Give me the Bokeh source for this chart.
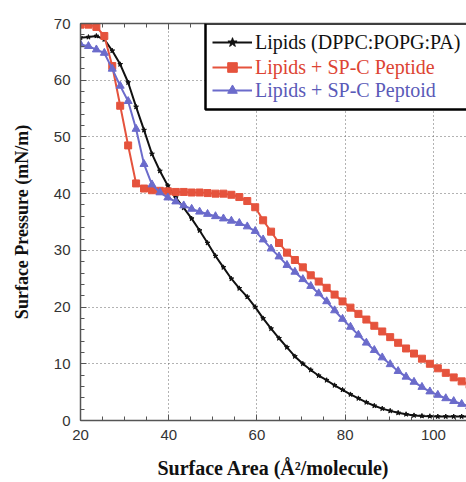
from bokeh.plotting import figure
from bokeh.models import (Range1d, SingleIntervalTicker, LinearAxis, Legend, LegendItem,
                          BoxAnnotation)
from bokeh.embed import file_html
from bokeh.resources import INLINE

# ---- data ----
area = [20.0, 21.8, 23.6, 25.4, 27.2, 29.0, 30.8, 32.6, 34.4, 36.2, 38.0, 39.8, 41.6, 43.4,
        45.2, 47.0, 48.8, 50.6, 52.4, 54.2, 56.0, 57.8, 59.6, 61.4, 63.2, 65.0, 66.8, 68.6,
        70.4, 72.2, 74.0, 75.8, 77.6, 79.4, 81.2, 83.0, 84.8, 86.6, 88.4, 90.2, 92.0, 93.8,
        95.6, 97.4, 99.2, 101.0, 102.8, 104.6, 106.4, 108.2]

lipids = [67.5, 67.6, 67.8, 67.2, 65.2, 62.8, 59.6, 55.3, 51.2, 47.0, 44.0, 41.4, 39.3, 37.5,
          35.6, 33.5, 31.3, 29.0, 27.0, 25.0, 23.3, 21.8, 20.0, 18.0, 16.2, 14.5, 12.9, 11.3,
          10.0, 8.9, 7.9, 7.1, 6.2, 5.4, 4.6, 3.9, 3.2, 2.6, 2.1, 1.7, 1.35, 1.1,
          0.9, 0.8, 0.75, 0.7, 0.7, 0.7, 0.7, 0.7]

peptide = [69.8, 69.8, 69.4, 67.8, 62.5, 55.5, 48.5, 41.8, 40.9, 40.6, 40.5, 40.4, 40.3, 40.3,
           40.2, 40.2, 40.1, 40.0, 40.0, 39.8, 39.4, 38.7, 37.6, 35.3, 33.3, 31.3, 29.6, 28.3,
           27.0, 25.6, 24.5, 23.4, 22.2, 21.0, 19.9, 18.8, 17.8, 16.7, 15.7, 14.7, 13.7, 12.7,
           11.8, 10.9, 10.0, 9.2, 8.4, 7.6, 6.9, 6.3]

peptoid = [66.3, 66.0, 65.4, 64.8, 62.0, 59.0, 56.3, 51.4, 45.2, 41.6, 40.2, 39.3, 38.6, 37.9,
           37.3, 36.8, 36.4, 36.0, 35.6, 35.2, 34.8, 34.2, 33.4, 31.9, 30.3, 28.9, 27.4, 26.2,
           24.9, 23.7, 22.4, 21.0, 19.4, 17.9, 16.5, 15.1, 13.7, 12.4, 11.1, 9.9, 8.7, 7.7,
           6.8, 5.9, 5.1, 4.5, 3.9, 3.4, 2.9, 2.5]

labels = ["Lipids (DPPC:POPG:PA)", "Lipids + SP-C Peptide", "Lipids + SP-C Peptoid"]
x_title = "Surface Area (Å²/molecule)"
y_title = "Surface Pressure (mN/m)"

BLACK = "#111111"
RED = "#E5533D"
BLUE = "#6B6BCB"
AXIS = "#555555"

p = figure(width=466, height=482, output_backend="svg", toolbar_location=None,
           x_range=Range1d(20, 107.5), y_range=Range1d(0, 70),
           min_border_left=80, min_border_right=0, min_border_top=23, min_border_bottom=62)
p.outline_line_color = None
p.background_fill_color = "white"

xt = SingleIntervalTicker(interval=20, num_minor_ticks=4)
yt = SingleIntervalTicker(interval=10, num_minor_ticks=5)
p.xaxis.ticker = xt
p.yaxis.ticker = yt
p.xgrid.ticker = xt
p.ygrid.ticker = yt

for ax in (p.xaxis, p.yaxis):
    ax.axis_line_color = AXIS
    ax.axis_line_width = 1.5
    ax.major_tick_line_color = AXIS
    ax.minor_tick_line_color = AXIS
    ax.major_tick_in = 6
    ax.major_tick_out = 0
    ax.minor_tick_in = 4
    ax.minor_tick_out = 0
    ax.major_label_text_font = "Liberation Sans"
    ax.major_label_text_font_size = "15px"
    ax.major_label_text_color = "#333333"
    ax.axis_label_text_font = "Liberation Serif"
    ax.axis_label_text_font_style = "bold"
    ax.axis_label_text_color = "#111111"

p.xaxis.axis_label = x_title
p.yaxis.axis_label = y_title
p.xaxis.axis_label_text_font_size = "20px"
p.yaxis.axis_label_text_font_size = "18px"
p.xaxis.major_label_standoff = 9
p.yaxis.major_label_standoff = 10
p.xaxis.axis_label_standoff = 14
p.yaxis.axis_label_standoff = 19

top = LinearAxis(ticker=xt, axis_line_color=AXIS, axis_line_width=1.5,
                 major_tick_line_color=AXIS, minor_tick_line_color=AXIS,
                 major_tick_in=6, major_tick_out=0, minor_tick_in=4, minor_tick_out=0,
                 major_label_text_color=None, major_label_text_font_size="0px",
                 major_label_standoff=0)
p.add_layout(top, "above")

for g in (p.xgrid, p.ygrid):
    g.grid_line_color = "#666666"
    g.grid_line_dash = "1 3"
    g.grid_line_width = 1

lb = p.line(area, lipids, line_color=BLACK, line_width=2)
sb = p.scatter(area, lipids, marker="star", size=5, fill_color=BLACK, line_color=BLACK)
lr = p.line(area, peptide, line_color=RED, line_width=2)
sr = p.scatter(area, peptide, marker="square", size=7, fill_color=RED, line_color=RED)
lu = p.line(area, peptoid, line_color=BLUE, line_width=2)
su = p.scatter(area, peptoid, marker="triangle", size=8, fill_color=BLUE, line_color=BLUE)

box = BoxAnnotation(left=125, right=420, bottom=311, top=397,
                    left_units="screen", right_units="screen",
                    top_units="screen", bottom_units="screen",
                    fill_color="white", fill_alpha=1.0,
                    line_color="black", line_width=2.5, line_alpha=1.0)
p.add_layout(box)

entries = [(labels[0], [lb, sb], "#111111", 366),
           (labels[1], [lr, sr], "#DD4433", 341),
           (labels[2], [lu, su], "#5A5AB8", 318)]
for text, rends, col, ybot in entries:
    leg = Legend(items=[LegendItem(label=text, renderers=rends)],
                 location=(132, ybot), orientation="vertical",
                 border_line_color=None, background_fill_alpha=0,
                 padding=0, margin=0, spacing=0,
                 glyph_width=40, glyph_height=24, label_height=24, label_standoff=3,
                 label_text_font="Liberation Serif", label_text_font_size="20px",
                 label_text_color=col)
    p.add_layout(leg)

open("out.html", "w").write(file_html(p, INLINE))
